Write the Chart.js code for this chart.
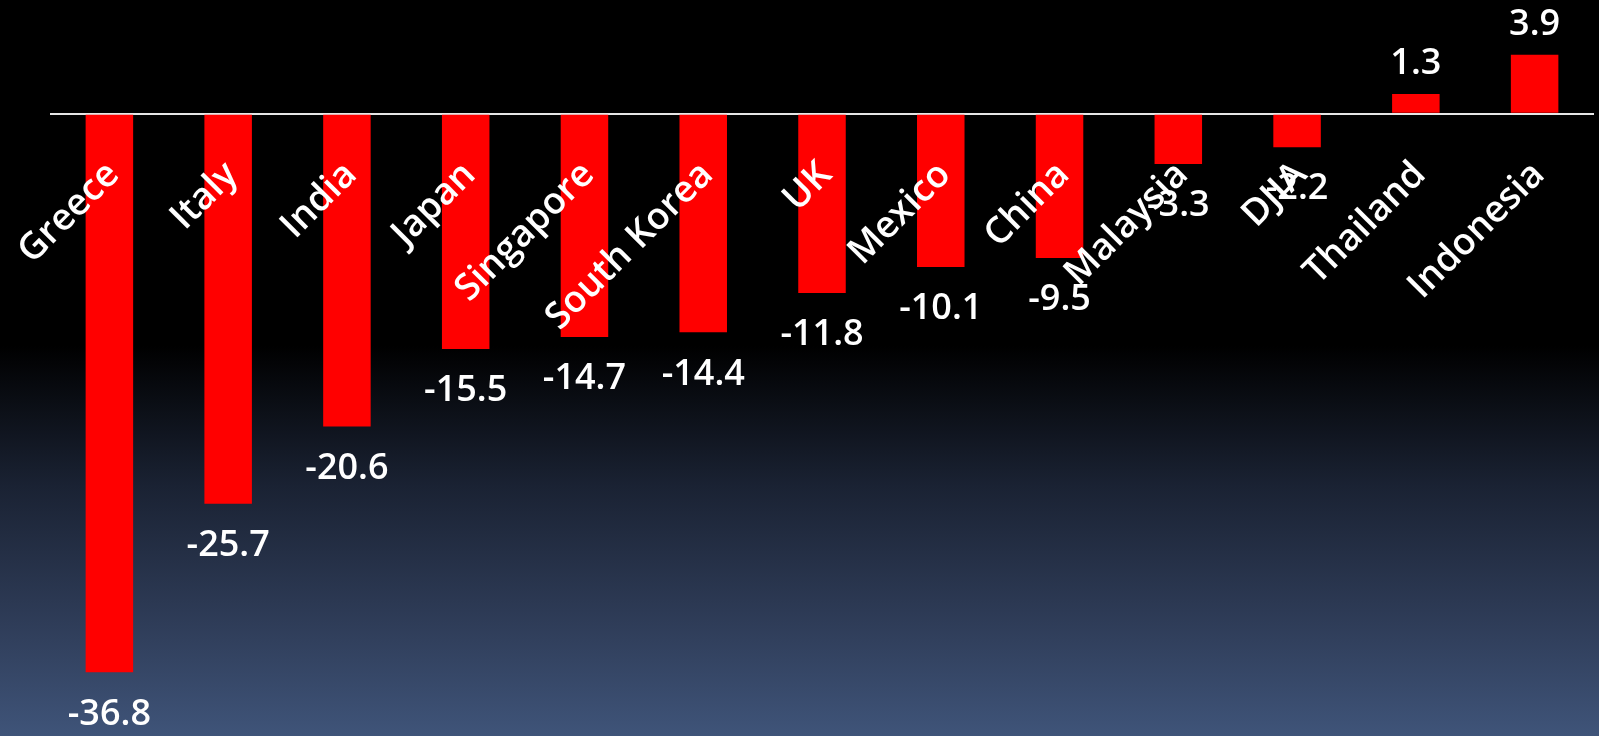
<!DOCTYPE html>
<html>
<head>
<meta charset="utf-8">
<script src="https://cdn.jsdelivr.net/npm/chart.js@4.4.1/dist/chart.umd.min.js"></script>
<style>
  html, body { margin: 0; padding: 0; }
  body {
    width: 1599px;
    height: 736px;
    overflow: hidden;
    background: linear-gradient(to bottom, #000000 0%, #000000 47%, #1a2233 66%, #2f3d59 85%, #3f5479 100%);
  }
  .chart { position: relative; width: 1599px; height: 736px; }
</style>
</head>
<body>
<div class="chart">
  <canvas id="marketChart"></canvas>
</div>
<script>
const countries = ["Greece", "Italy", "India", "Japan", "Singapore", "South Korea", "UK", "Mexico", "China", "Malaysia", "DJIA", "Thailand", "Indonesia"];
const changes = [-36.8, -25.7, -20.6, -15.5, -14.7, -14.4, -11.8, -10.1, -9.5, -3.3, -2.2, 1.3, 3.9];
const valueLabels = ["-36.8", "-25.7", "-20.6", "-15.5", "-14.7", "-14.4", "-11.8", "-10.1", "-9.5", "-3.3", "-2.2", "1.3", "3.9"];

// labels under the zero line + numbers at the bar ends
const labelPlugin = {
  id: "labelPlugin",
  afterDatasetsDraw(chart) {
    const ctx = chart.ctx;
    const x = chart.scales.x;
    const y = chart.scales.y;
    const zero = y.getPixelForValue(0);
    const meta = chart.getDatasetMeta(0);

    ctx.save();
    ctx.fillStyle = "#ffffff";

    // category names, rotated
    ctx.font = "600 37px 'Open Sans', sans-serif";
    ctx.textAlign = "right";
    ctx.textBaseline = "middle";
    countries.forEach((name, i) => {
      const cx = x.getPixelForValue(i);
      ctx.save();
      ctx.translate(cx + 4, zero + 55);
      ctx.rotate(-Math.PI / 4);
      ctx.fillText(name, 0, 0);
      ctx.restore();
    });

    // values
    ctx.font = "600 36px 'Open Sans', sans-serif";
    ctx.textAlign = "center";
    meta.data.forEach((bar, i) => {
      const v = changes[i];
      const ty = v < 0 ? bar.y + 42 : bar.y - 30;
      ctx.fillText(valueLabels[i], bar.x, ty);
    });
    ctx.restore();
  },
};

const ctx = document.getElementById("marketChart").getContext("2d");
new Chart(ctx, {
  type: "bar",
  data: {
    labels: countries,
    datasets: [
      {
        label: "Change",
        data: changes,
        backgroundColor: "#ff0000",
        borderWidth: 0,
        barPercentage: 0.4,
        categoryPercentage: 1,
      },
    ],
  },
  options: {
    responsive: true,
    maintainAspectRatio: false,
    animation: false,
    layout: {
      padding: { left: 50, right: 5, top: 0, bottom: 0 },
    },
    plugins: {
      legend: { display: false },
      tooltip: { enabled: false },
    },
    scales: {
      x: {
        display: false,
      },
      y: {
        display: true,
        min: -41,
        max: 7.5,
        border: { display: false },
        ticks: { display: false, stepSize: 0.5 },
        grid: {
          drawTicks: false,
          lineWidth: 2,
          color: (c) => (c.tick && c.tick.value === 0 ? "#e6e6e6" : "rgba(0,0,0,0)"),
        },
      },
    },
  },
  plugins: [labelPlugin],
});
</script>
</body>
</html>
